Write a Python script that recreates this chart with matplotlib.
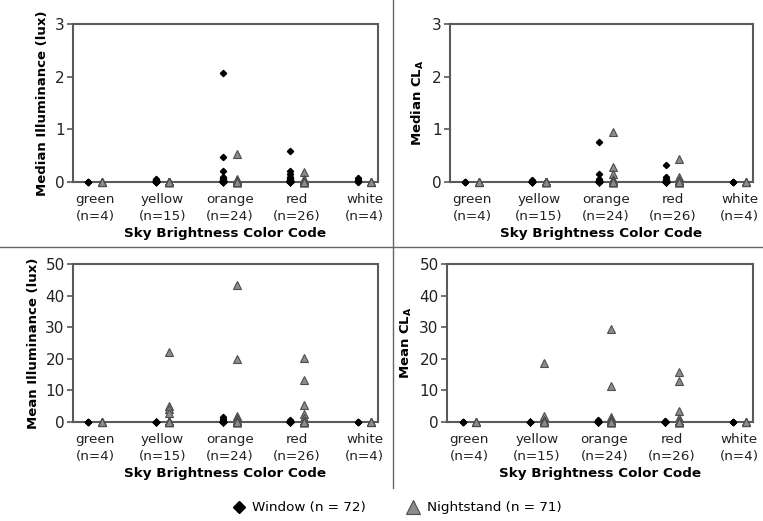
import matplotlib
matplotlib.use("Agg")
import matplotlib.pyplot as plt
from matplotlib.lines import Line2D

plt.rcParams["font.family"] = "DejaVu Sans"
plt.rcParams["mathtext.fontset"] = "dejavusans"

categories = ["green\n(n=4)", "yellow\n(n=15)", "orange\n(n=24)", "red\n(n=26)", "white\n(n=4)"]

# median illuminance (lux)
med_lux_window = [
    [0, 0, 0, 0],
    [0.06, 0.04, 0.03, 0.02, 0.02, 0.01, 0.01, 0, 0, 0, 0, 0, 0, 0, 0],
    [2.07, 0.48, 0.20, 0.10, 0.07, 0.05, 0.04, 0.03, 0.02, 0.02, 0.01, 0.01,
     0.01, 0, 0, 0, 0, 0, 0, 0, 0, 0, 0],
    [0.59, 0.20, 0.15, 0.10, 0.08, 0.05, 0.04, 0.03, 0.02, 0.02, 0.01, 0.01, 0.01,
     0, 0, 0, 0, 0, 0, 0, 0, 0, 0, 0, 0, 0],
    [0.07, 0.03, 0.01, 0],
]
med_lux_night = [
    [0, 0, 0, 0],
    [0, 0, 0, 0, 0, 0, 0, 0, 0, 0, 0, 0, 0, 0],
    [0.53, 0.05, 0.03, 0.02, 0.01, 0.01, 0, 0, 0, 0, 0, 0, 0, 0, 0, 0, 0, 0, 0, 0,
     0, 0, 0, 0],
    [0.19, 0.05, 0.03, 0.01, 0.01, 0, 0, 0, 0, 0, 0, 0, 0, 0, 0, 0, 0, 0, 0, 0,
     0, 0, 0, 0, 0],
    [0, 0, 0, 0],
]

# median CL_A
med_cla_window = [
    [0, 0, 0, 0],
    [0.03, 0.02, 0.01, 0.01, 0, 0, 0, 0, 0, 0, 0, 0, 0, 0, 0],
    [0.75, 0.15, 0.06, 0.04, 0.02, 0.01, 0.01, 0, 0, 0, 0, 0, 0, 0, 0, 0, 0, 0,
     0, 0, 0, 0, 0],
    [0.33, 0.10, 0.06, 0.04, 0.02, 0.01, 0.01, 0, 0, 0, 0, 0, 0, 0, 0, 0, 0, 0,
     0, 0, 0, 0, 0, 0, 0, 0],
    [0, 0, 0, 0],
]
med_cla_night = [
    [0, 0, 0, 0],
    [0, 0, 0, 0, 0, 0, 0, 0, 0, 0, 0, 0, 0, 0],
    [0.95, 0.28, 0.15, 0.05, 0.02, 0.01, 0, 0, 0, 0, 0, 0, 0, 0, 0, 0, 0, 0, 0, 0,
     0, 0, 0, 0],
    [0.43, 0.10, 0.03, 0.01, 0, 0, 0, 0, 0, 0, 0, 0, 0, 0, 0, 0, 0, 0, 0, 0,
     0, 0, 0, 0, 0],
    [0, 0, 0, 0],
]

# mean illuminance (lux)
mean_lux_window = [
    [0, 0, 0, 0],
    [0.1, 0.05, 0, 0, 0, 0, 0, 0, 0, 0, 0, 0, 0, 0, 0],
    [1.5, 0.9, 0.4, 0.2, 0.1, 0, 0, 0, 0, 0, 0, 0, 0, 0, 0, 0, 0, 0, 0, 0, 0, 0, 0],
    [0.6, 0.3, 0.1, 0, 0, 0, 0, 0, 0, 0, 0, 0, 0, 0, 0, 0, 0, 0, 0, 0, 0, 0, 0,
     0, 0, 0],
    [0, 0, 0, 0],
]
mean_lux_night = [
    [0, 0, 0, 0],
    [22.2, 5.0, 4.2, 3.0, 0.3, 0.1, 0, 0, 0, 0, 0, 0, 0, 0],
    [43.5, 19.8, 2.0, 1.2, 0.5, 0.2, 0, 0, 0, 0, 0, 0, 0, 0, 0, 0, 0, 0, 0, 0,
     0, 0, 0, 0],
    [20.3, 13.2, 5.3, 2.6, 1.2, 0.4, 0.1, 0, 0, 0, 0, 0, 0, 0, 0, 0, 0, 0, 0, 0,
     0, 0, 0, 0, 0],
    [0, 0, 0, 0],
]

# mean CL_A
mean_cla_window = [
    [0, 0, 0, 0],
    [0, 0, 0, 0, 0, 0, 0, 0, 0, 0, 0, 0, 0, 0, 0],
    [0.5, 0.2, 0, 0, 0, 0, 0, 0, 0, 0, 0, 0, 0, 0, 0, 0, 0, 0, 0, 0, 0, 0, 0],
    [0.3, 0.1, 0, 0, 0, 0, 0, 0, 0, 0, 0, 0, 0, 0, 0, 0, 0, 0, 0, 0, 0, 0, 0,
     0, 0, 0],
    [0, 0, 0, 0],
]
mean_cla_night = [
    [0, 0, 0, 0],
    [18.7, 2.0, 0.6, 0.2, 0, 0, 0, 0, 0, 0, 0, 0, 0, 0],
    [29.5, 11.3, 1.5, 0.8, 0.3, 0, 0, 0, 0, 0, 0, 0, 0, 0, 0, 0, 0, 0, 0, 0,
     0, 0, 0, 0],
    [15.8, 12.9, 3.5, 1.2, 0.4, 0, 0, 0, 0, 0, 0, 0, 0, 0, 0, 0, 0, 0, 0, 0,
     0, 0, 0, 0, 0],
    [0, 0, 0, 0],
]

W, H = 763, 521
SPINE = "#5a5a5a"
TRI_FACE = "#8c8c8c"
TRI_EDGE = "#4d4d4d"


def px_axes(fig, left, top, right, bottom):
    return fig.add_axes([left / W, 1 - bottom / H, (right - left) / W, (bottom - top) / H])


def draw_panel(ax, window, night, ymax, ystep, ylabel):
    for i, vals in enumerate(window):
        ax.plot([i - 0.1] * len(vals), vals, linestyle="none", marker="D",
                markersize=3.2, color="black", zorder=3, clip_on=False)
    for i, vals in enumerate(night):
        ax.plot([i + 0.1] * len(vals), vals, linestyle="none", marker="^",
                markersize=6, markerfacecolor=TRI_FACE, markeredgecolor=TRI_EDGE,
                markeredgewidth=0.8, zorder=4, clip_on=False)
    ax.set_xlim(-0.33, 4.2)
    ax.set_ylim(0, ymax)
    ax.set_yticks(range(0, ymax + 1, ystep))
    ax.set_xticks(range(len(categories)))
    ax.set_xticklabels(categories, fontsize=9.7, linespacing=1.4)
    ax.tick_params(axis="x", length=0, pad=8, colors="#222222")
    ax.tick_params(axis="y", length=4, width=1.2, color=SPINE, labelsize=11,
                   labelcolor="#222222", pad=2)
    for s in ax.spines.values():
        s.set_color(SPINE)
        s.set_linewidth(1.5)
    ax.set_ylabel(ylabel, fontsize=9.5, fontweight="bold", labelpad=4)
    ax.set_xlabel("Sky Brightness Color Code", fontsize=9.7, fontweight="bold",
                  labelpad=3)


fig = plt.figure(figsize=(W / 100, H / 100), dpi=100)

ax1 = px_axes(fig, 73, 24, 378, 182)
draw_panel(ax1, med_lux_window, med_lux_night, 3, 1, "Median Illuminance (lux)")
ax2 = px_axes(fig, 450, 24, 753, 182)
draw_panel(ax2, med_cla_window, med_cla_night, 3, 1, r"Median CL$_{\mathbf{A}}$")
ax3 = px_axes(fig, 73, 264, 378, 422)
draw_panel(ax3, mean_lux_window, mean_lux_night, 50, 10, "Mean Illuminance (lux)")
ax4 = px_axes(fig, 447, 264, 753, 422)
draw_panel(ax4, mean_cla_window, mean_cla_night, 50, 10, r"Mean CL$_{\mathbf{A}}$")

# divider lines between panels
fig.add_artist(Line2D([393 / W, 393 / W], [1, 1 - 488 / H], color="#666666", lw=1))
fig.add_artist(Line2D([0, 1], [1 - 247 / H, 1 - 247 / H], color="#666666", lw=1))

handles = [
    Line2D([], [], linestyle="none", marker="D", markersize=6.5, color="black",
           label="Window (n = 72)"),
    Line2D([], [], linestyle="none", marker="^", markersize=10,
           markerfacecolor=TRI_FACE, markeredgecolor=TRI_EDGE, markeredgewidth=0.8,
           label="Nightstand (n = 71)"),
]
fig.legend(handles=handles, loc="center", bbox_to_anchor=(0.52, 1 - 508 / H), ncol=2,
           frameon=False, fontsize=9.7, handletextpad=0.5, columnspacing=3.0,
           handlelength=1.0)

fig.savefig("out.png", dpi=100)
